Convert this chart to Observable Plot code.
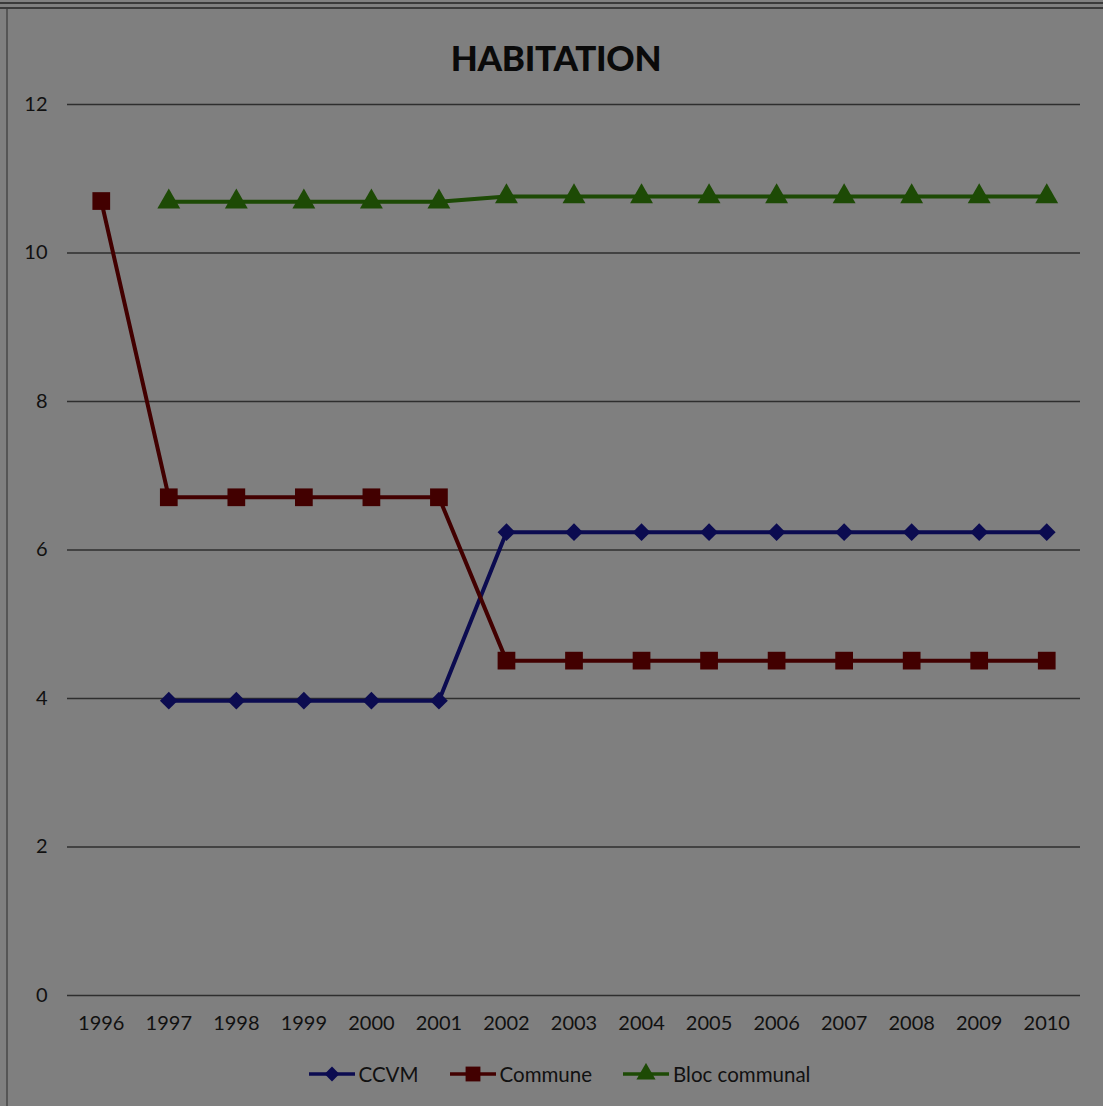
<!DOCTYPE html>
<html><head><meta charset="utf-8">
<script src="https://cdn.jsdelivr.net/npm/d3@7"></script>
<script src="https://cdn.jsdelivr.net/npm/@observablehq/plot@0.6"></script>
<style>
html,body{margin:0;padding:0;background:#7f7f7f;}
#wrap{position:relative;width:1103px;height:1106px;background:#7f7f7f;overflow:hidden;font-family:Lato,"Open Sans",sans-serif;}
#topline{position:absolute;left:0;top:2px;width:1103px;height:3px;border-top:2px solid #3a3a3a;border-bottom:2px solid #3a3a3a;}
#leftline{position:absolute;left:6px;top:9px;width:0;height:1100px;border-left:2px solid #555;}
#title{position:absolute;left:0;top:36px;width:1112px;text-align:center;font-weight:900;font-size:35px;color:#0a0a0a;letter-spacing:-0.3px;}
#chart{position:absolute;left:0;top:80px;}
#legend{position:absolute;left:0;top:1062px;width:1118px;display:flex;justify-content:center;align-items:center;gap:30px;font-size:20.5px;color:#111;}
.item{display:flex;align-items:center;}
.item svg{margin-right:3px;}
</style></head>
<body><div id="wrap">
<div id="topline"></div><div id="leftline"></div>
<div id="title">HABITATION</div>
<div id="chart"></div>
<div id="legend"></div>
</div>
<script>
const years = ["1996","1997","1998","1999","2000","2001","2002","2003","2004","2005","2006","2007","2008","2009","2010"];
const ccvm = [null,3.97,3.97,3.97,3.97,3.97,6.24,6.24,6.24,6.24,6.24,6.24,6.24,6.24,6.24];
const commune = [10.7,6.71,6.71,6.71,6.71,6.71,4.51,4.51,4.51,4.51,4.51,4.51,4.51,4.51,4.51];
const bloc = [null,10.69,10.69,10.69,10.69,10.69,10.76,10.76,10.76,10.76,10.76,10.76,10.76,10.76,10.76];
const yTicks = [0,2,4,6,8,10,12];
const seriesNames = ["CCVM","Commune","Bloc communal"];
const seriesColors = ["#0b0b50","#420000","#1d4a05"];
const seriesSymbols = ["diamond2","square","triangle"];
const seriesR = [8,10,8.5];

const allValues = [ccvm, commune, bloc];
const data = [];
seriesNames.forEach((s,i)=>{
  years.forEach((y,j)=>{ if(allValues[i][j]!=null) data.push({series:s, year:y, value:allValues[i][j]}); });
});

const chart = Plot.plot({
  width:1103, height:965,
  marginTop:24, marginBottom:50, marginLeft:67, marginRight:23,
  style:{background:"transparent",fontFamily:"Lato, 'Open Sans', sans-serif",fontSize:"20px",color:"#111"},
  x:{type:"point",domain:years,padding:0.5,round:false,label:null},
  y:{domain:[0,12],label:null},
  marks:[
    Plot.gridY(yTicks,{stroke:"#2e2e2e",strokeOpacity:1,strokeWidth:1.5}),
    Plot.axisX({tickSize:0,tickPadding:20,fontSize:20,fill:"#111"}),
    Plot.axisY(yTicks,{tickSize:0,tickPadding:20,fontSize:20,fill:"#111",tickFormat:d=>String(d)}),
    ...seriesNames.map((s,i)=>Plot.line(data.filter(d=>d.series===s),{x:"year",y:"value",stroke:seriesColors[i],strokeWidth:4})),
    ...seriesNames.map((s,i)=>Plot.dot(data.filter(d=>d.series===s),{x:"year",y:"value",fill:seriesColors[i],stroke:"none",symbol:seriesSymbols[i],r:seriesR[i]}))
  ]
});
document.getElementById("chart").appendChild(chart);

const legend = document.getElementById("legend");
seriesNames.forEach((s,i)=>{
  const it = document.createElement("div"); it.className="item";
  const sym = d3.symbol().type({diamond2:d3.symbolDiamond2,square:d3.symbolSquare,triangle:d3.symbolTriangle}[seriesSymbols[i]]).size(Math.PI*seriesR[i]*seriesR[i]*0.7)();
  it.innerHTML = `<svg width="48" height="22"><line x1="1" x2="47" y1="11" y2="11" stroke="${seriesColors[i]}" stroke-width="3.5"/><path transform="translate(24,11)" d="${sym}" fill="${seriesColors[i]}"/></svg><span>${s}</span>`;
  legend.appendChild(it);
});
</script>
</body></html>
